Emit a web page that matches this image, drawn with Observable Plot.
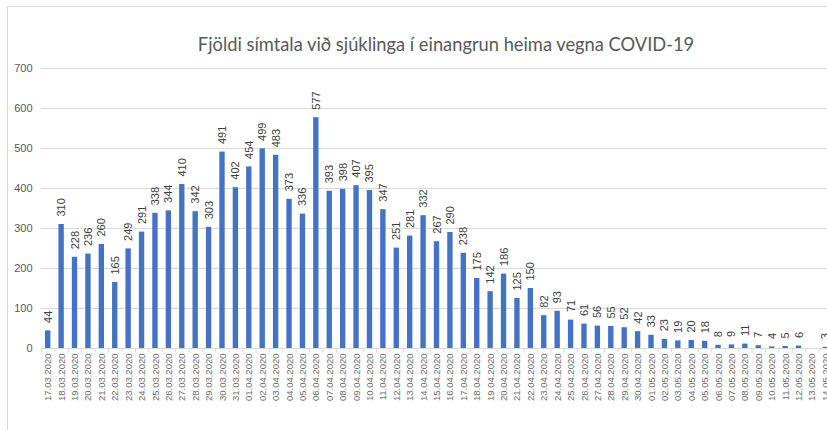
<!DOCTYPE html>
<html>
<head>
<meta charset="utf-8">
<script src="https://cdn.jsdelivr.net/npm/d3@7"></script>
<script src="https://cdn.jsdelivr.net/npm/@observablehq/plot@0.6"></script>
<style>
  html, body { margin: 0; padding: 0; background: white; overflow: hidden; }
  #wrap { position: relative; width: 827px; height: 430px; overflow: hidden; background: white; }
  #frame { position: absolute; left: 7px; top: 6px; right: -10px; bottom: -10px; border-left: 1px solid #d9d9d9; border-top: 1px solid #d9d9d9; pointer-events: none; }
  #wrap svg { overflow: hidden; position: absolute; left: 0; top: 0; max-width: none !important; width: 832px; height: 430px; }
</style>
</head>
<body>
<div id="wrap"><div id="frame"></div></div>
<script>
const title = "Fjöldi símtala við sjúklinga í einangrun heima vegna COVID-19";

const dates = [
  "17.03.2020","18.03.2020","19.03.2020","20.03.2020","21.03.2020","22.03.2020","23.03.2020",
  "24.03.2020","25.03.2020","26.03.2020","27.03.2020","28.03.2020","29.03.2020","30.03.2020","31.03.2020",
  "01.04.2020","02.04.2020","03.04.2020","04.04.2020","05.04.2020","06.04.2020","07.04.2020","08.04.2020",
  "09.04.2020","10.04.2020","11.04.2020","12.04.2020","13.04.2020","14.04.2020","15.04.2020","16.04.2020",
  "17.04.2020","18.04.2020","19.04.2020","20.04.2020","21.04.2020","22.04.2020","23.04.2020","24.04.2020",
  "25.04.2020","26.04.2020","27.04.2020","28.04.2020","29.04.2020","30.04.2020",
  "01.05.2020","02.05.2020","03.05.2020","04.05.2020","05.05.2020","06.05.2020","07.05.2020",
  "08.05.2020","09.05.2020","10.05.2020","11.05.2020","12.05.2020","13.05.2020","14.05.2020"
];

const calls = [
  44, 310, 228, 236, 260, 165, 249,
  291, 338, 344, 410, 342, 303, 491, 402,
  454, 499, 483, 373, 336, 577, 393, 398,
  407, 395, 347, 251, 281, 332, 267, 290,
  238, 175, 142, 186, 125, 150, 82, 93,
  71, 61, 56, 55, 52, 42,
  33, 23, 19, 20, 18, 8, 9,
  11, 7, 4, 5, 6, null, 3
];

const yTicks = [0, 100, 200, 300, 400, 500, 600, 700];

const data = dates.map((d, i) => ({date: d, value: calls[i]}));
const present = data.filter(d => d.value != null);

const W = 832, H = 430, mL = 41, mT = 68, mB = 82;
const step = (W - mL) / dates.length;

const chart = Plot.plot({
  width: W,
  height: H,
  marginLeft: mL,
  marginRight: 0,
  marginTop: mT,
  marginBottom: mB,
  style: {background: "white", fontFamily: "'Liberation Sans', Arial, sans-serif"},
  x: {domain: dates, paddingInner: 0.6, paddingOuter: 0.3, round: false, axis: null},
  y: {domain: [0, 700], axis: null},
  marks: [
    Plot.ruleY(yTicks.filter(t => t > 0), {stroke: "#d9d9d9", strokeWidth: 1}),
    Plot.ruleY([0], {stroke: "#d9d9d9", strokeWidth: 1}),
    Plot.ruleX(dates, {x: d => d, y1: 0, y2: -11, dx: -step / 2, stroke: "#d9d9d9"}),
    Plot.barY(present, {x: "date", y: "value", fill: "#4472c4"}),
    Plot.text(present, {
      x: "date", y: "value", text: d => String(d.value),
      rotate: -90, textAnchor: "start", lineAnchor: "middle",
      dy: -8, fontSize: 11, fill: "#404040"
    }),
    Plot.axisY(yTicks, {
      tickSize: 0, tickPadding: 9, fontSize: 11, color: "#595959", label: null
    }),
    Plot.axisX({
      tickSize: 0, tickPadding: 5, tickRotate: -90, fontSize: 9.5,
      color: "#6b6b6b", label: null, letterSpacing: "1.7px"
    }),
    Plot.text([title], {
      text: d => d, frameAnchor: "top", dy: -23, dx: 9, lineAnchor: "middle",
      fontSize: 18.3, fill: "#595959", fontFamily: "Lato, 'Open Sans', sans-serif"
    })
  ]
});

document.getElementById("wrap").insertBefore(chart, document.getElementById("frame"));
</script>
</body>
</html>
